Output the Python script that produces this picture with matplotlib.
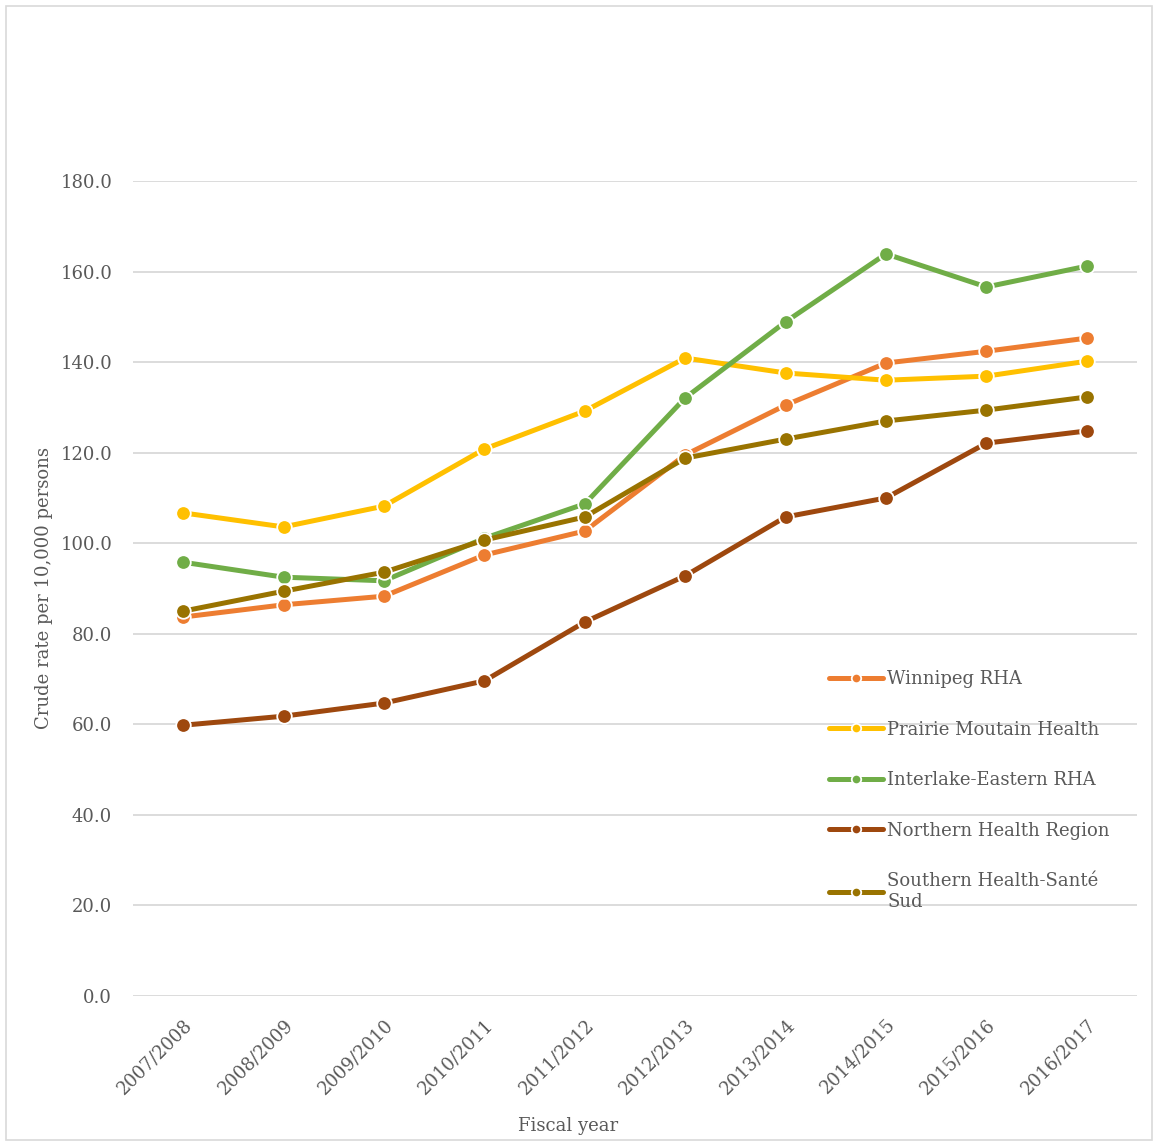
import matplotlib
matplotlib.use("Agg")
import matplotlib.pyplot as plt
from matplotlib.patches import Rectangle

years = ["2007/2008", "2008/2009", "2009/2010", "2010/2011", "2011/2012",
         "2012/2013", "2013/2014", "2014/2015", "2015/2016", "2016/2017"]

winnipeg = [83.7, 86.4, 88.3, 97.4, 102.7, 119.5, 130.5, 139.8, 142.4, 145.3]
prairie = [106.7, 103.6, 108.2, 120.8, 129.2, 140.9, 137.6, 136.0, 136.9, 140.2]
interlake = [95.8, 92.5, 91.7, 101.1, 108.7, 132.1, 148.9, 163.9, 156.6, 161.2]
northern = [59.8, 61.8, 64.7, 69.6, 82.6, 92.8, 105.8, 110.0, 122.1, 124.8]
southern = [85.0, 89.4, 93.6, 100.7, 105.8, 118.8, 123.0, 127.0, 129.4, 132.3]

series_names = ["Winnipeg RHA", "Prairie Moutain Health", "Interlake-Eastern RHA",
                "Northern Health Region", "Southern Health-Santé\nSud"]
series_colors = ["#ED7D31", "#FFC000", "#70AD47", "#9E480E", "#997300"]
y_ticks = [0, 20, 40, 60, 80, 100, 120, 140, 160, 180]

plt.rcParams['font.family'] = ['DejaVu Serif']
text_color = "#595959"
fs = 13

fig = plt.figure(figsize=(11.54, 11.42), dpi=100)
fig.patches.append(Rectangle((6/1154, 2/1142), 1146/1154, 1134/1142, transform=fig.transFigure,
                             fill=False, edgecolor="#D9D9D9", linewidth=1.2))
ax = fig.add_axes([133/1154, 1 - 996/1142, (1137 - 133)/1154, (996 - 181)/1142])

x = list(range(len(years)))
for vals, name, col in zip([winnipeg, prairie, interlake, northern, southern], series_names, series_colors):
    ax.plot(x, vals, color=col, linewidth=3.6, marker='o', markersize=10.5,
            markerfacecolor=col, markeredgecolor='white', markeredgewidth=1.3,
            label=name, solid_capstyle='round')

ax.set_xlim(-0.5, len(years) - 0.5)
ax.set_ylim(0, 180)
ax.set_yticks(y_ticks)
ax.set_yticklabels([f"{v:.1f}" for v in y_ticks])
ax.set_xticks(x)
ax.set_xticklabels(years, rotation=45, ha='right', rotation_mode='anchor')
ax.tick_params(axis='both', length=0, labelsize=fs, colors=text_color)
ax.tick_params(axis='y', pad=15)
ax.tick_params(axis='x', pad=14)
ax.grid(axis='y', color="#D9D9D9", linewidth=1.3)
ax.set_axisbelow(True)
for s in ax.spines.values():
    s.set_visible(False)

ax.set_xlabel("Fiscal year", fontsize=fs, color=text_color)
ax.xaxis.set_label_coords((568 - 133) / 1004, -(1117 - 996) / 815)
ax.set_ylabel("Crude rate per 10,000 persons", fontsize=fs, color=text_color, labelpad=5)

leg = ax.legend(loc='upper left', bbox_to_anchor=(813/1154, 1 - 654/1142), bbox_transform=fig.transFigure,
                frameon=False, fontsize=fs, labelspacing=1.8, handlelength=3.0, handletextpad=0.2,
                labelcolor=text_color, markerscale=0.65)

fig.savefig("out.png", dpi=100)
